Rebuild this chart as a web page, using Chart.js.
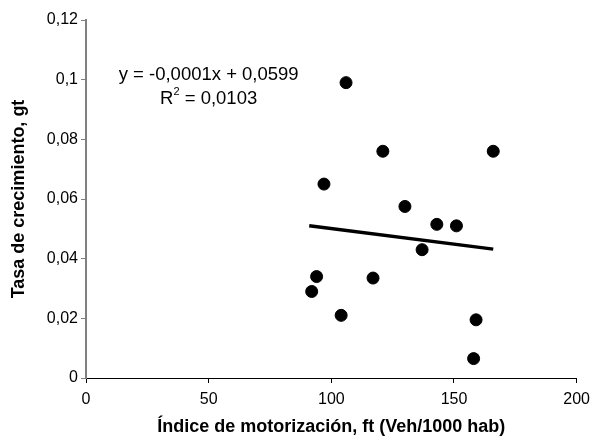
<!DOCTYPE html>
<html>
<head>
<meta charset="utf-8">
<script src="https://cdn.jsdelivr.net/npm/chart.js@4"></script>
<style>
  body { margin: 0; background: #fff; }
  canvas { display: block; }
</style>
</head>
<body>
<canvas id="chart" width="597" height="442"></canvas>
<script>
// Puntos: indice de motorizacion vs tasa de crecimiento
let motorizacion = [92, 94, 97, 104, 106, 117, 121, 130, 137, 143, 151, 159, 158, 166];
let crecimiento = [0.029, 0.034, 0.065, 0.021, 0.099, 0.0335, 0.076, 0.0575, 0.043, 0.0515, 0.051, 0.0195, 0.0065, 0.076];

// Linea de tendencia (extremos)
let tendenciaX = [91, 166];
let tendenciaY = [0.0510, 0.0432];

let ecuacion = "y = -0,0001x + 0,0599";
let r2Valor = " = 0,0103";

let xTicks = [0, 50, 100, 150, 200];
let yTicks = [0, 0.02, 0.04, 0.06, 0.08, 0.1, 0.12];

const fuente = "'Liberation Sans', Arial, sans-serif";

function comaDecimal(v) {
  return Number(v.toFixed(2)).toString().replace(".", ",");
}

// Texto de la ecuacion
const textoEcuacion = {
  id: "textoEcuacion",
  afterDraw(chart) {
    let ctx = chart.ctx;
    let x = chart.scales.x;
    let y = chart.scales.y;
    ctx.save();
    ctx.fillStyle = "#000";
    ctx.font = "18.5px " + fuente;
    ctx.textBaseline = "middle";
    ctx.textAlign = "center";
    ctx.fillText(ecuacion, x.getPixelForValue(50), y.getPixelForValue(0.1016));
    // R^2
    let cx = x.getPixelForValue(50);
    let cy = y.getPixelForValue(0.0935);
    let w1 = ctx.measureText("R").width;
    ctx.font = "11px " + fuente;
    let w2 = ctx.measureText("2").width;
    ctx.font = "18.5px " + fuente;
    let w3 = ctx.measureText(r2Valor).width;
    let start = cx - (w1 + w2 + w3) / 2;
    ctx.textAlign = "left";
    ctx.fillText("R", start, cy);
    ctx.font = "11px " + fuente;
    ctx.fillText("2", start + w1, cy - 7);
    ctx.font = "18.5px " + fuente;
    ctx.fillText(r2Valor, start + w1 + w2, cy);
    ctx.restore();
  }
};

let ctx = document.getElementById("chart");
let chart = new Chart(ctx, {
  type: "scatter",
  data: {
    datasets: [
      {
        label: "Datos",
        data: motorizacion.map((v, i) => ({ x: v, y: crecimiento[i] })),
        backgroundColor: "#000",
        borderColor: "#000",
        pointRadius: 6,
        pointHoverRadius: 6
      },
      {
        label: "Tendencia",
        data: tendenciaX.map((v, i) => ({ x: v, y: tendenciaY[i] })),
        showLine: true,
        borderColor: "#000",
        borderWidth: 3.5,
        pointRadius: 0
      }
    ]
  },
  options: {
    responsive: false,
    animation: false,
    layout: { padding: { top: 20, right: 14, left: 0, bottom: 0 } },
    plugins: {
      legend: { display: false },
      tooltip: { enabled: false }
    },
    scales: {
      x: {
        type: "linear",
        min: 0,
        max: 200,
        afterBuildTicks: s => { s.ticks = xTicks.map(v => ({ value: v })); },
        afterFit: s => { s.height = 64; },
        grid: { drawOnChartArea: false, drawTicks: true, tickLength: 5, color: "#000" },
        border: { display: true, color: "#000", width: 1 },
        ticks: {
          color: "#000",
          font: { family: fuente, size: 16 },
          padding: 7,
          maxRotation: 0
        },
        title: {
          display: true,
          text: "Índice de motorización, ft (Veh/1000 hab)",
          color: "#000",
          font: { family: fuente, size: 18, weight: "bold" },
          padding: { top: 0, bottom: 4 }
        }
      },
      y: {
        type: "linear",
        min: 0,
        max: 0.12,
        afterBuildTicks: s => { s.ticks = yTicks.map(v => ({ value: v })); },
        afterFit: s => { s.width = 86; },
        grid: { drawOnChartArea: false, drawTicks: true, tickLength: 5, color: "#808080" },
        border: { display: true, color: "#808080", width: 2 },
        ticks: {
          color: "#000",
          font: { family: fuente, size: 16 },
          padding: 3,
          callback: v => comaDecimal(v)
        },
        title: {
          display: true,
          text: "Tasa de crecimiento, gt",
          color: "#000",
          font: { family: fuente, size: 18, weight: "bold" },
          padding: { top: 8, bottom: 0 }
        }
      }
    }
  },
  plugins: [textoEcuacion]
});
</script>
</body>
</html>
